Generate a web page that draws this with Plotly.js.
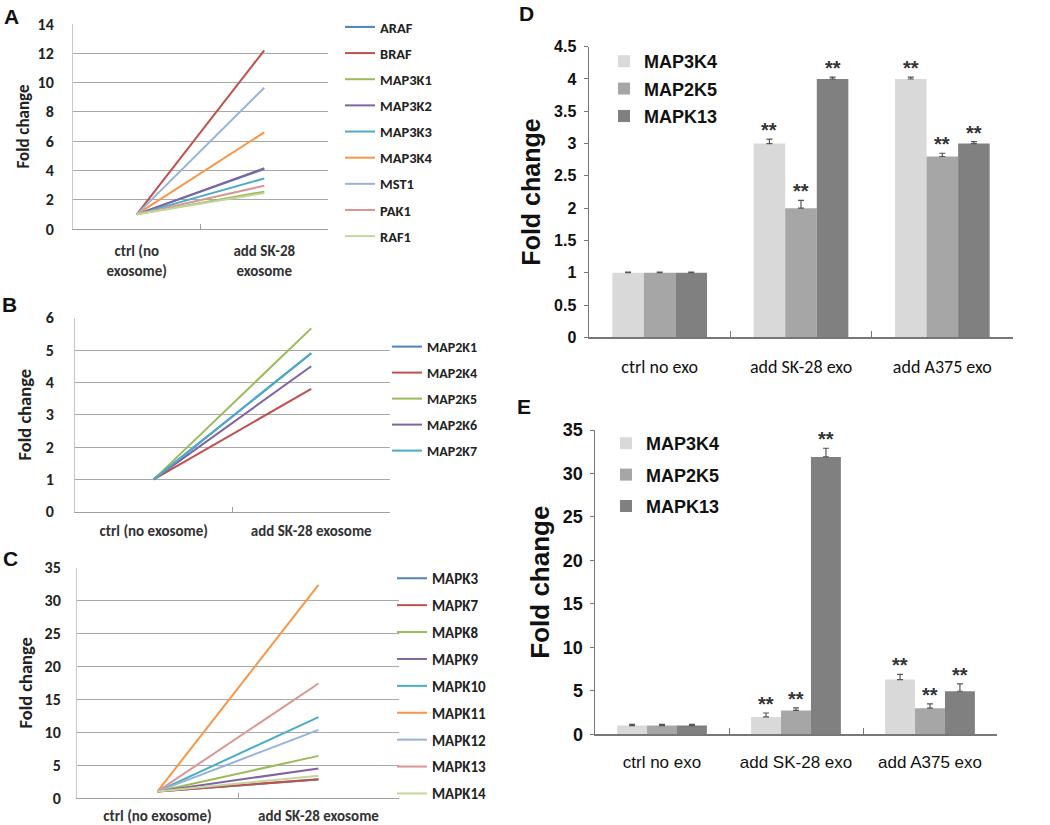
<!DOCTYPE html>
<html><head><meta charset="utf-8">
<script src="https://cdn.plot.ly/plotly-3.0.1.min.js"></script>
<style>html,body{margin:0;padding:0;background:#fff}</style>
</head><body><div id="chart" style="width:1050px;height:825px"></div>
<script>
// ---------- DATA ----------
const lineColors = ['#4F81BD','#C0504D','#9BBB59','#8064A2','#4BACC6','#F79646','#95B3D7','#D99694','#C3D69B'];

const catA = ['ctrl (no<br>exosome)', 'add SK-28<br>exosome'];
const genesA = ['ARAF','BRAF','MAP3K1','MAP3K2','MAP3K3','MAP3K4','MST1','PAK1','RAF1'];
const ctrlA = [1,1,1,1,1,1,1,1,1];
const sk28A = [4.1, 12.2, 2.55, 4.15, 3.45, 6.6, 9.65, 2.95, 2.45];

const catB = ['ctrl (no exosome)', 'add SK-28 exosome'];
const genesB = ['MAP2K1','MAP2K4','MAP2K5','MAP2K6','MAP2K7'];
const ctrlB = [1,1,1,1,1];
const sk28B = [4.9, 3.8, 5.67, 4.5, 4.9];

const catC = ['ctrl (no exosome)', 'add SK-28 exosome'];
const genesC = ['MAPK3','MAPK7','MAPK8','MAPK9','MAPK10','MAPK11','MAPK12','MAPK13','MAPK14'];
const ctrlC = [1,1,1,1,1,1,1,1,1];
const sk28C = [2.8, 2.85, 6.4, 4.5, 12.3, 32.4, 10.35, 17.4, 3.4];

const catDE = ['ctrl no exo','add SK-28 exo','add A375 exo'];
const barGenes = ['MAP3K4','MAP2K5','MAPK13'];
const barColors = ['#d9d9d9','#a6a6a6','#808080'];

const dMAP3K4 = [1, 3.0, 4.0];
const dMAP2K5 = [1, 2.0, 2.8];
const dMAPK13 = [1, 4.0, 3.0];
const dErrMAP3K4 = [0.01, 0.07, 0.03];
const dErrMAP2K5 = [0.01, 0.12, 0.05];
const dErrMAPK13 = [0.01, 0.03, 0.03];

const eMAP3K4 = [1, 2.0, 6.3];
const eMAP2K5 = [1, 2.75, 3.0];
const eMAPK13 = [1, 31.9, 4.95];
const eErrMAP3K4 = [0.15, 0.45, 0.6];
const eErrMAP2K5 = [0.15, 0.3, 0.5];
const eErrMAPK13 = [0.15, 1.0, 0.85];

const sigLabels = ['', '**', '**'];

// ---------- BUILD ----------
const FA = 'Carlito, Lato, "Open Sans", sans-serif';
const FB = '"Liberation Sans", Arial, sans-serif';
const W = 1050, H = 825;
const dx = (a,b) => [a/W, b/W];
const dy = (top,bot) => [1-bot/H, 1-top/H];

const traces = [];
function addLines(genes, ctrl, sk, cats, xa, ya, leg){
  genes.forEach((g,i)=>{
    traces.push({type:'scatter', mode:'lines', name:g, x:cats, y:[ctrl[i], sk[i]],
      xaxis:xa, yaxis:ya, legend:leg, legendgroup:leg+g,
      line:{color:lineColors[i], width:2}, hoverinfo:'skip'});
  });
}
addLines(genesA, ctrlA, sk28A, catA, 'x', 'y', 'legend');
addLines(genesB, ctrlB, sk28B, catB, 'x2', 'y2', 'legend2');
addLines(genesC, ctrlC, sk28C, catC, 'x3', 'y3', 'legend3');

const dVals = [dMAP3K4, dMAP2K5, dMAPK13];
const dErrs = [dErrMAP3K4, dErrMAP2K5, dErrMAPK13];
const eVals = [eMAP3K4, eMAP2K5, eMAPK13];
const eErrs = [eErrMAP3K4, eErrMAP2K5, eErrMAPK13];

function addBars(vals, errs, xa, ya, leg){
  barGenes.forEach((g,j)=>{
    traces.push({type:'bar', name:g, x:catDE, y:vals[j], xaxis:xa, yaxis:ya, legend:leg,
      legendgroup:leg+g,
      marker:{color:barColors[j], line:{width:0}},
      error_y:{type:'data', symmetric:false, array:errs[j], arrayminus:[0,0,0],
               color:'#555', thickness:1.2, width:3},
      hoverinfo:'skip'});
  });
}
addBars(dVals, dErrs, 'x4', 'y4', 'legend4');
addBars(eVals, eErrs, 'x5', 'y5', 'legend5');

const BARGAP = 0.33;
const annotations = [];
function addStars(vals, errs, xr, yr){
  const bw = (1-BARGAP)/3;
  vals.forEach((v,j)=>{
    v.forEach((val,i)=>{
      if(!sigLabels[i]) return;
      annotations.push({xref:xr, yref:yr, x:i+(j-1)*bw, y:val+errs[j][i],
        text:'<b>'+sigLabels[i]+'</b>', showarrow:false, yanchor:'bottom', yshift:-4,
        font:{family:FB, size:20, color:'#333'}});
    });
  });
}
addStars(dVals, dErrs, 'x4', 'y4');
addStars(eVals, eErrs, 'x5', 'y5');

const panelLabels = [['A',11,16],['B',9,305],['C',10,558],['D',526,14],['E',524,406]];
panelLabels.forEach(([t,x,y])=>annotations.push({xref:'paper', yref:'paper', x:x/W, y:1-y/H,
  text:'<b>'+t+'</b>', showarrow:false, xanchor:'center', yanchor:'middle',
  font:{family:FB, size:21, color:'#111'}}));

function lineXAxis(dom, anchor, fs, standoff){
  return {domain:dom, anchor:anchor, type:'category', range:[-0.5,1.5],
    tickson:'boundaries', ticks:'inside', ticklen:5, tickcolor:'#a0a0a0', tickangle:0,
    showline:true, linecolor:'#a0a0a0', linewidth:1, showgrid:false, zeroline:false,
    ticklabelstandoff:standoff,
    tickfont:{family:FA, size:fs, color:'#333', weight:700}, fixedrange:true};
}
function lineYAxis(dom, anchor, range, dtick, standoff, tstand, tfs){
  return {domain:dom, anchor:anchor, range:range, dtick:dtick, showgrid:true,
    gridcolor:'#a8a8a8', gridwidth:1, showline:true, linecolor:'#c8c8c8', linewidth:1,
    zeroline:false, ticks:'', ticklabelstandoff:standoff,
    tickfont:{family:FA, size:16, color:'#222', weight:700},
    title:{text:'Fold change', standoff:tstand, font:{family:FA, size:tfs, color:'#222', weight:700}},
    fixedrange:true};
}
function barXAxis(dom, anchor, font, standoff){
  return {domain:dom, anchor:anchor, type:'category', range:[-0.5,2.5],
    tickson:'boundaries', ticks:'inside', ticklen:6, tickcolor:'#777', tickangle:0,
    showline:true, linecolor:'#777', linewidth:1.5, showgrid:false, zeroline:false,
    ticklabelstandoff:standoff, tickfont:font, fixedrange:true};
}
function barYAxis(dom, anchor, range, dtick, fs, tfs, tstand, standoff){
  return {domain:dom, anchor:anchor, range:range, dtick:dtick, showgrid:false,
    showline:true, linecolor:'#777', linewidth:1.5, zeroline:false,
    ticks:'outside', ticklen:4, tickcolor:'#777', ticklabelstandoff:standoff,
    tickfont:{family:FB, size:fs, color:'#111', weight:700},
    title:{text:'Fold change', standoff:tstand, font:{family:FB, size:tfs, color:'#111', weight:700}},
    fixedrange:true};
}

function lineLegend(x, y, gap, fs){
  return {x:x/W, y:1-y/H, xanchor:'left', yanchor:'top', bgcolor:'rgba(0,0,0,0)',
    borderwidth:0, traceorder:'grouped', tracegroupgap:gap,
    font:{family:FA, size:fs, color:'#222', weight:700}};
}
function barLegend(x, y, gap, fs){
  return {x:x/W, y:1-y/H, xanchor:'left', yanchor:'top', bgcolor:'rgba(0,0,0,0)',
    borderwidth:0, traceorder:'grouped', tracegroupgap:gap,
    font:{family:FB, size:fs, color:'#111', weight:700}};
}

const layout = {
  width:W, height:H, margin:{l:0,r:0,t:0,b:0}, paper_bgcolor:'#fff', plot_bgcolor:'#fff',
  showlegend:true, barmode:'group', bargap:BARGAP, bargroupgap:0,
  xaxis: lineXAxis(dx(73,328), 'y', 15, 8),
  yaxis: lineYAxis(dy(24,229), 'x', [0,14], 2, 15, 3, 17),
  xaxis2: lineXAxis(dx(75,390), 'y2', 15, 5),
  yaxis2: lineYAxis(dy(317.7,511.7), 'x2', [0,6], 1, 17, 9, 18.5),
  xaxis3: lineXAxis(dx(77,399), 'y3', 15, 4),
  yaxis3: lineYAxis(dy(567.7,798), 'x3', [0,35], 5, 12, 7, 18.5),
  xaxis4: barXAxis(dx(589,1013), 'y4', {family:FA, size:18, color:'#111'}, 13),
  yaxis4: barYAxis(dy(46.7,337.3), 'x4', [0,4.5], 0.5, 16, 25, 6, 4),
  xaxis5: barXAxis(dx(595,997), 'y5', {family:FB, size:17, color:'#111'}, 12),
  yaxis5: barYAxis(dy(430,734.3), 'x5', [0,35], 5, 18, 26, 6, 3),
  legend: lineLegend(340, 11, 4.3, 14.5),
  legend2: lineLegend(387, 331, 4.8, 14),
  legend3: lineLegend(392, 562, 4.4, 15),
  legend4: barLegend(604, 43, 1, 18),
  legend5: barLegend(606, 425, 5, 18),
  annotations: annotations
};

Plotly.newPlot('chart', traces, layout, {staticPlot:true, displayModeBar:false});
</script></body></html>
